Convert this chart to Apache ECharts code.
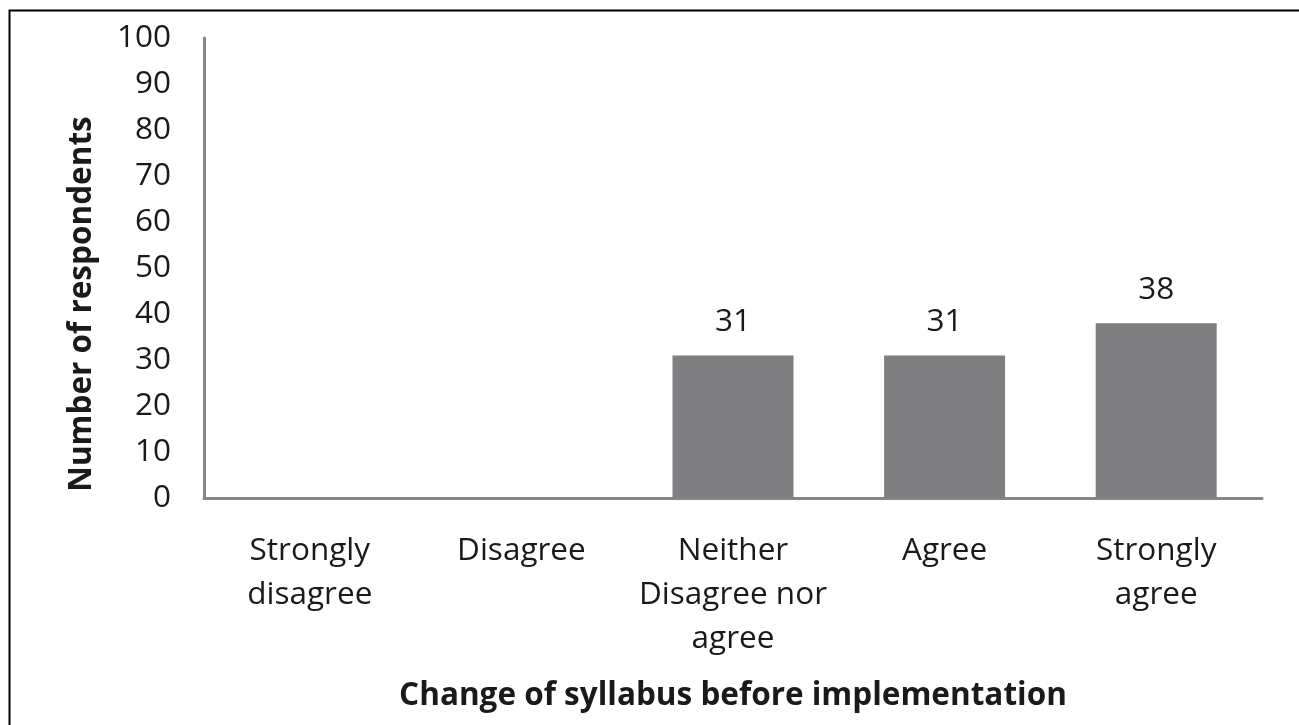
<!DOCTYPE html>
<html><head><meta charset="utf-8">
<script src="https://cdn.jsdelivr.net/npm/echarts@6/dist/echarts.min.js"></script>
<style>html,body{margin:0;padding:0;background:#fff}#c{width:1299px;height:725px}</style>
</head><body><div id="c"></div>
<script>
const categories = ["Strongly\ndisagree", "Disagree", "Neither\nDisagree nor\nagree", "Agree", "Strongly\nagree"];
const values = [0, 0, 31, 31, 38];
const yTicks = {min: 0, max: 100, interval: 10};
const xTitle = "Change of syllabus before implementation";
const yTitle = "Number of respondents";

const FONT = "Open Sans";
const FS = 31.5;
const chart = echarts.init(document.getElementById('c'), null, {renderer: 'canvas'});
chart.setOption({
  backgroundColor: '#fff',
  animation: false,
  textStyle: {fontFamily: FONT},
  graphic: [
    {type: 'rect', left: 7, top: 8, shape: {width: 1320, height: 740}, style: {fill: 'none', stroke: '#000', lineWidth: 2}, silent: true},
    {type: 'text', x: 82, y: 304, rotation: Math.PI / 2, silent: true,
     style: {text: yTitle, font: 'bold ' + FS + 'px "' + FONT + '"', fill: '#1a1a1a', align: 'center', verticalAlign: 'middle'}}
  ],
  grid: {left: 204, right: 37, top: 38, bottom: 227, containLabel: false},
  xAxis: {
    type: 'category', data: categories,
    axisLine: {lineStyle: {color: '#868686', width: 3}},
    axisTick: {show: false},
    axisLabel: {fontFamily: FONT, fontSize: FS, color: '#1a1a1a', lineHeight: 44, margin: 31, interval: 0},
    name: xTitle, nameLocation: 'middle', nameGap: 182,
    nameTextStyle: {fontFamily: FONT, fontSize: FS, fontWeight: 'bold', color: '#1a1a1a'}
  },
  yAxis: {
    type: 'value', min: yTicks.min, max: yTicks.max, interval: yTicks.interval,
    axisLine: {show: true, lineStyle: {color: '#868686', width: 3}},
    axisTick: {show: false},
    splitLine: {show: false},
    axisLabel: {fontFamily: FONT, fontSize: FS, color: '#1a1a1a', margin: 33}
  },
  series: [{
    type: 'bar', data: values, barWidth: 121,
    itemStyle: {color: '#7f7f81'},
    label: {show: true, position: 'top', distance: 17, fontFamily: FONT, fontSize: FS, color: '#1a1a1a',
      formatter: p => p.value > 0 ? p.value : ''}
  }]
});
</script></body></html>
